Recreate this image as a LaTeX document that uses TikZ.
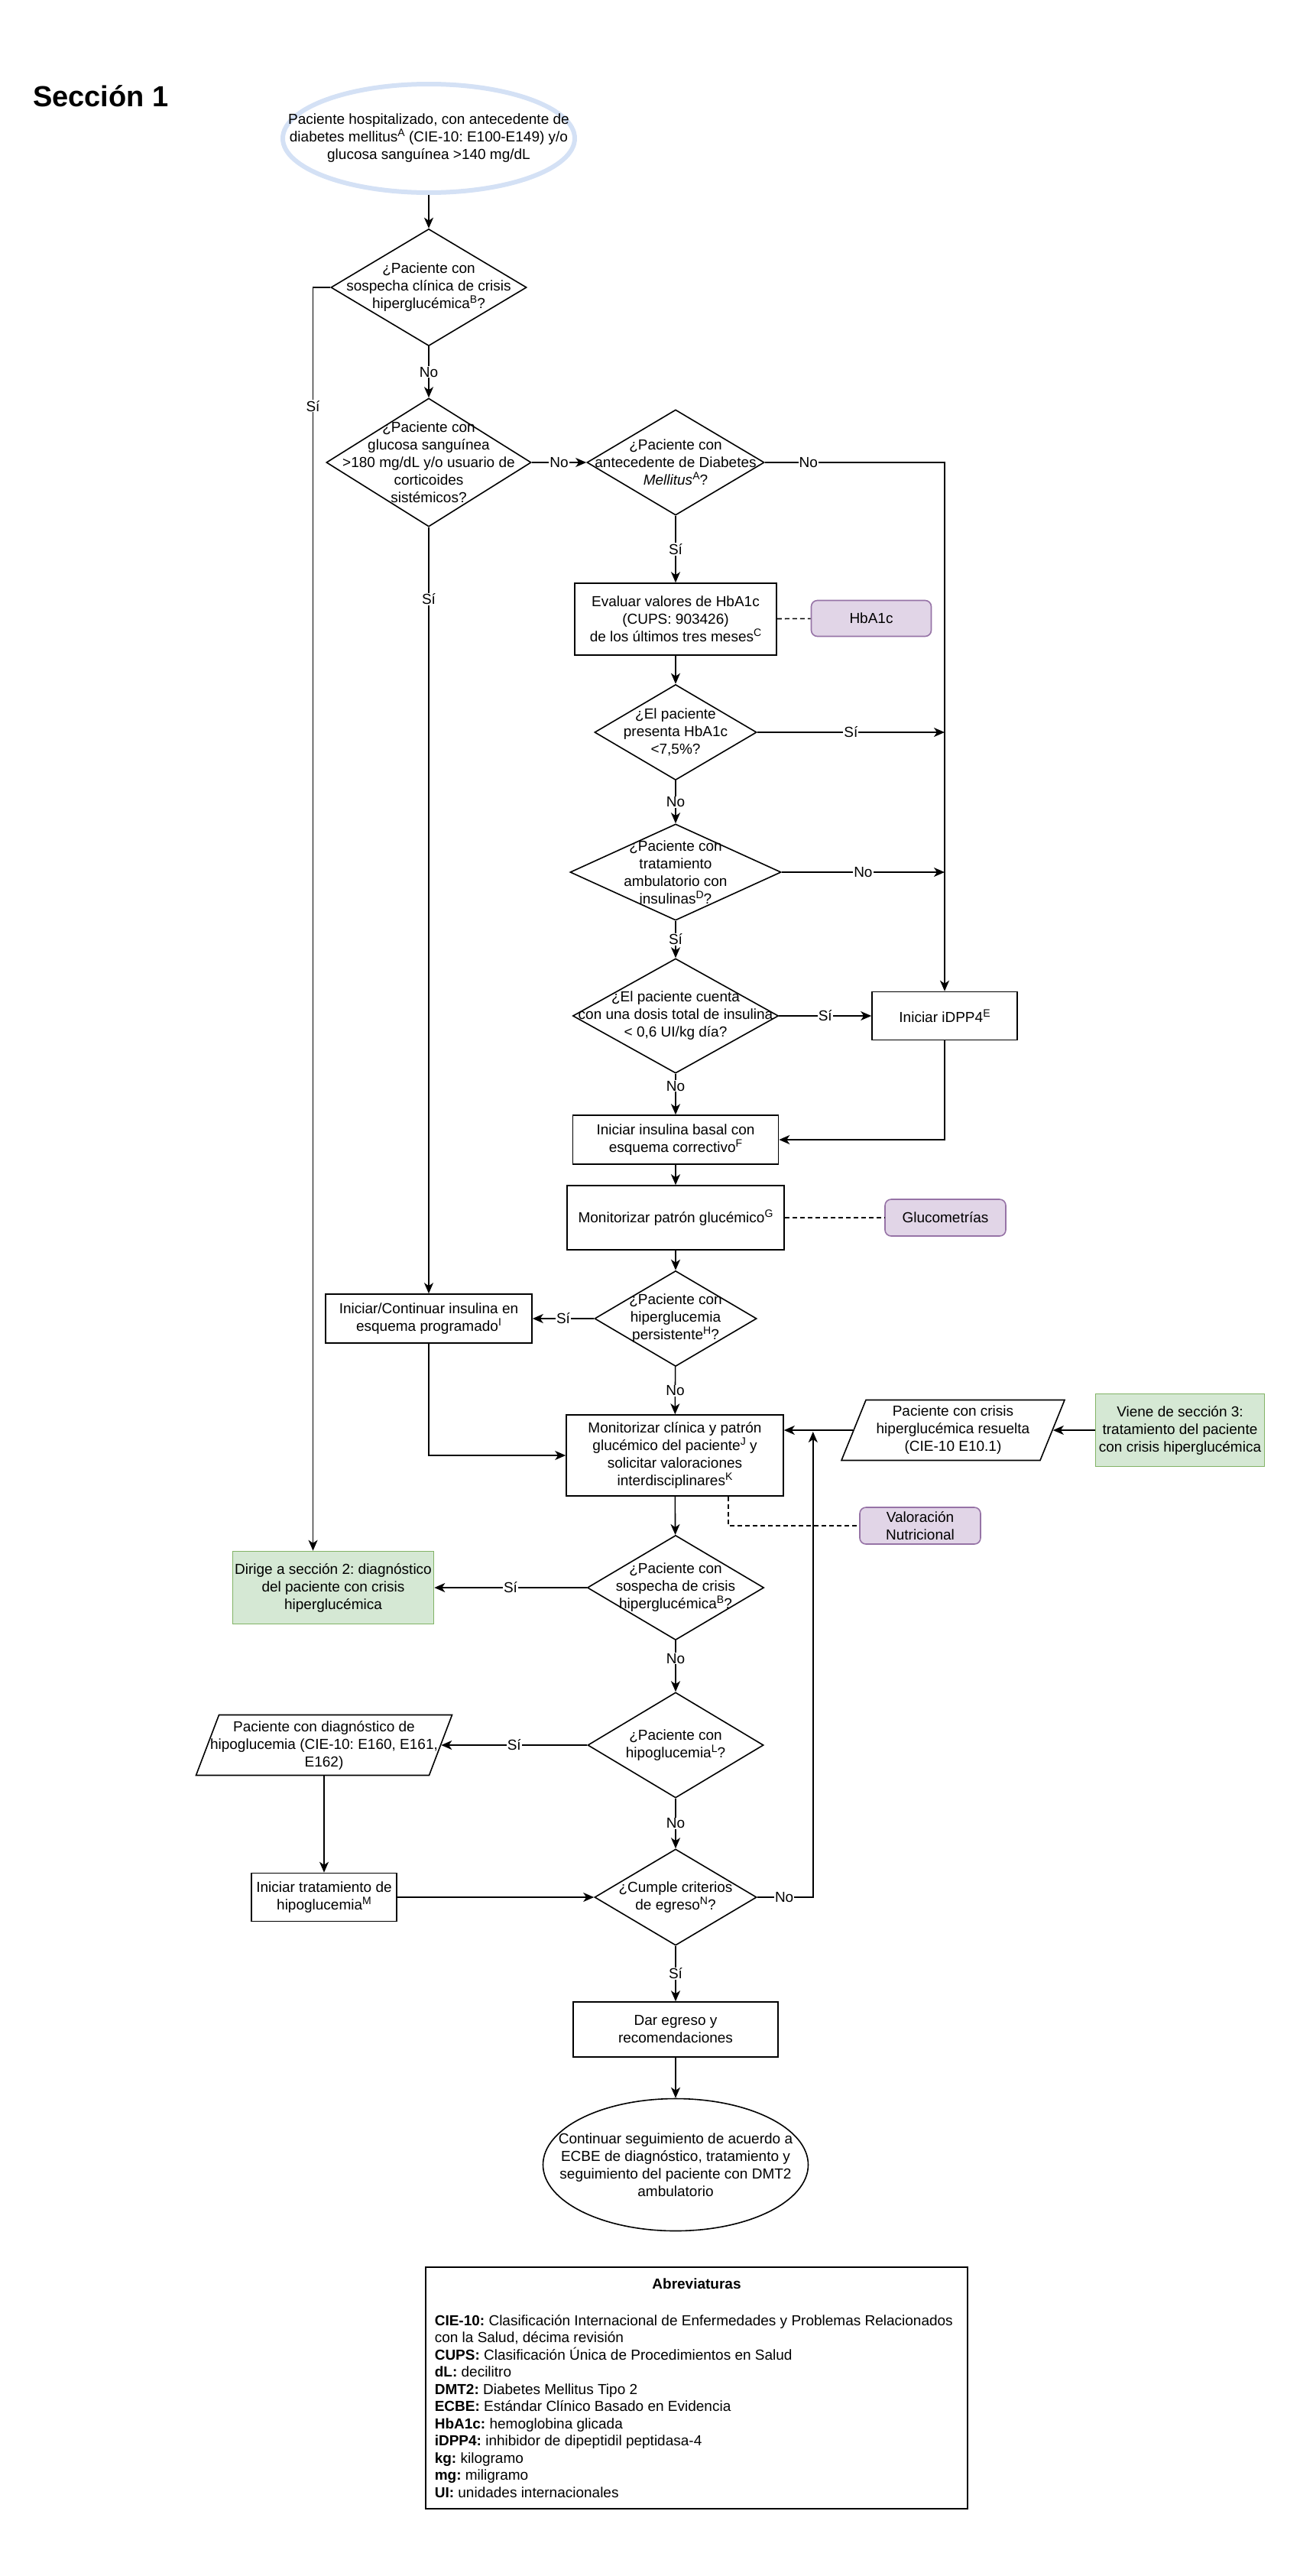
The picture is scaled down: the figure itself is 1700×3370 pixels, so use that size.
\documentclass[tikz,border=0pt]{standalone}
\usepackage{fontspec}
\setmainfont{Liberation Sans}
\usepackage{tikz}
\usetikzlibrary{shapes.geometric,arrows.meta,calc}

\definecolor{azulinicio}{HTML}{D4E1F5}
\definecolor{lilafondo}{HTML}{E1D5E7}
\definecolor{lilaborde}{HTML}{9673A6}
\definecolor{verdefondo}{HTML}{D5E8D4}
\definecolor{verdeborde}{HTML}{82B366}

% superindice de las notas
\newcommand{\nota}[1]{\raisebox{7pt}{\fontsize{14}{14}\selectfont #1}}
\frenchspacing

\begin{document}
\begin{tikzpicture}[x=1pt,y=-1pt,line width=1.6pt,
    every node/.style={font=\fontsize{19}{23}\selectfont,align=center},
    sz/.style 2 args={minimum width=#1,minimum height=#2},
    proc/.style={draw,inner sep=1pt},
    decision/.style={draw,diamond,inner sep=0pt},
    texto/.style={inner sep=0pt},
    lila/.style={draw=lilaborde,fill=lilafondo,rounded corners=8pt},
    verde/.style={draw=verdeborde,fill=verdefondo,inner sep=1pt},
    entrada/.style={draw,inner sep=0pt},
    flecha/.style={-{Stealth[length=14pt,width=12pt,inset=4pt]}},
    punteada/.style={dash pattern=on 6pt off 4pt},
    etiqueta/.style={fill=white,inner sep=1pt}]
        \useasboundingbox (0,0) rectangle (1700,3370);

        % Titulo
        \node[anchor=base west,font=\fontsize{38}{44}\selectfont\bfseries] (titulo) at (39,139) {Sección 1};

        % Inicio
        \node[draw=azulinicio,ellipse,line width=6pt,inner sep=0pt,sz={382}{142}] (inicio) at (561,181) {};
        \node[texto] (iniciot) at (inicio) {Paciente hospitalizado, con antecedente de\\diabetes mellitus\nota{A} (CIE-10: E100-E149) y/o\\glucosa sanguínea >140 mg/dL};

        % Decisiones
        \node[decision,sz={256}{153}] (d1) at (561,376) {};
        \node[texto] (d1t) at (d1) {¿Paciente con\\sospecha clínica de crisis\\hiperglucémica\nota{B}?};
        \node[decision,sz={268}{168}] (d2) at (561,605) {};
        \node[texto] (d2t) at (d2) {¿Paciente con\\glucosa sanguínea\\>180 mg/dL y/o usuario de\\corticoides\\sistémicos?};
        \node[decision,sz={232}{138}] (d3) at (884,605) {};
        \node[texto] (d3t) at (d3) {¿Paciente con\\antecedente de Diabetes\\\textit{Mellitus}\nota{A}?};
        \node[decision,sz={212}{125}] (d4) at (884,958) {};
        \node[texto] (d4t) at (d4) {¿El paciente\\presenta HbA1c\\<7,5\%?};
        \node[decision,sz={276}{126}] (d5) at (884,1141) {};
        \node[texto] (d5t) at (d5) {¿Paciente con\\tratamiento\\ambulatorio con\\insulinas\nota{D}?};
        \node[decision,sz={269}{150}] (d6) at (884,1329) {};
        \node[texto] (d6t) at (d6) {¿El paciente cuenta\\con una dosis total de insulina\\< 0,6 UI/kg día?};
        \node[decision,sz={212}{125}] (d7) at (884,1725) {};
        \node[texto] (d7t) at (d7) {¿Paciente con\\hiperglucemia\\persistente\nota{H}?};
        \node[decision,sz={231}{137}] (d8) at (884,2077) {};
        \node[texto] (d8t) at (d8) {¿Paciente con\\sospecha de crisis\\hiperglucémica\nota{B}?};
        \node[decision,sz={230}{138}] (d9) at (884,2283) {};
        \node[texto] (d9t) at (d9) {¿Paciente con\\hipoglucemia\nota{L}?};
        \node[decision,sz={212}{126}] (d10) at (884,2482) {};
        \node[texto] (d10t) at (d10) {¿Cumple criterios\\de egreso\nota{N}?};

        % Procesos
        \node[proc,sz={264}{94}] (b1) at (884,810) {Evaluar valores de HbA1c\\(CUPS: 903426)\\de los últimos tres meses\nota{C}};
        \node[proc,sz={190}{63}] (idpp4) at (1236,1329) {Iniciar iDPP4\nota{E}};
        \node[proc,sz={269}{64}] (b2) at (884,1491) {Iniciar insulina basal con\\esquema correctivo\nota{F}};
        \node[proc,sz={284}{84}] (b3) at (884,1593) {Monitorizar patrón glucémico\nota{G}};
        \node[proc,sz={270}{64}] (b4) at (561,1725) {Iniciar/Continuar insulina en\\esquema programado\nota{I}};
        \node[proc,sz={284}{106}] (b5) at (883,1904) {Monitorizar clínica y patrón\\glucémico del paciente\nota{J} y\\solicitar valoraciones\\interdisciplinares\nota{K}};
        \node[proc,sz={190}{63}] (b6) at (424,2482) {Iniciar tratamiento de\\hipoglucemia\nota{M}};
        \node[proc,sz={268}{72}] (b7) at (884,2655) {Dar egreso y\\recomendaciones};

        % Recursos y conectores de seccion
        \node[lila,sz={157}{47}] (hb) at (1140,809) {HbA1c};
        \node[lila,sz={158}{48}] (gl) at (1237,1593) {Glucometrías};
        \node[lila,sz={158}{48}] (vn) at (1204,1996) {Valoración\\Nutricional};
        \node[verde,sz={221}{95}] (g1) at (1544,1871) {Viene de sección 3:\\tratamiento del paciente\\con crisis hiperglucémica};
        \node[verde,sz={263}{95}] (g2) at (436,2077) {Dirige a sección 2: diagnóstico\\del paciente con crisis\\hiperglucémica};

        % Entradas
        \node[entrada,xslant=0.405,sz={260}{79}] (p1) at (1247,1871) {};
        \node[texto] (p1t) at (p1.center) {Paciente con crisis\\hiperglucémica resuelta\\(CIE-10 E10.1)};
        \node[entrada,xslant=0.38,sz={305}{79}] (p2) at (424,2283) {};
        \node[texto] (p2t) at (p2.center) {Paciente con diagnóstico de\\hipoglucemia (CIE-10: E160, E161,\\E162)};

        % Fin
        \node[draw,ellipse,inner sep=0pt,sz={347}{173}] (fin) at (884,2832) {};
        \node[texto] (fint) at (fin) {Continuar seguimiento de acuerdo a\\ECBE de diagnóstico, tratamiento y\\seguimiento del paciente con DMT2\\ambulatorio};

        % Puntos auxiliares
        \coordinate (g2in) at ($(g2.north west)!0.4!(g2.north east)$);
        \coordinate (b5nut) at ($(b5.south west)!0.745!(b5.south east)$);
        \coordinate (retorno) at ($(p1.west -| b5.east)+(38,2)$);

        % Conectores
        \draw[flecha] (inicio) -- (d1);
        \draw[flecha] (d1) -- node[etiqueta] (l1) {No} (d2);
        \draw[flecha] (d1.west) -| node[etiqueta,pos=0.547] (l2) {Sí} (g2in);
        \draw[flecha] (d2) -- node[etiqueta] (l3) {No} (d3);
        \draw[flecha] (d2) -- node[etiqueta,pos=0.094] (l4) {Sí} (b4);
        \draw[flecha] (d3) -- node[etiqueta] (l5) {Sí} (b1);
        \draw[flecha] (d3.east) -| node[etiqueta,pos=0.121] (l6) {No} (idpp4.north);
        \draw[punteada] (b1) -- (hb);
        \draw[flecha] (b1) -- (d4);
        \draw[flecha] (d4.east) -- node[etiqueta] (l7) {Sí} (d4.east -| idpp4);
        \draw[flecha] (d4) -- node[etiqueta] (l8) {No} (d5);
        \draw[flecha] (d5.east) -- node[etiqueta] (l9) {No} (d5.east -| idpp4);
        \draw[flecha] (d5) -- node[etiqueta] (l10) {Sí} (d6);
        \draw[flecha] (d6) -- node[etiqueta] (l11) {Sí} (idpp4);
        \draw[flecha] (d6) -- node[etiqueta,pos=0.3] (l12) {No} (b2);
        \draw[flecha] (idpp4.south) |- (b2.east);
        \draw[flecha] (b2) -- (b3);
        \draw[punteada] (b3) -- (gl);
        \draw[flecha] (b3) -- (d7);
        \draw[flecha] (d7) -- node[etiqueta] (l13) {Sí} (b4);
        \draw[flecha] (d7) -- node[etiqueta] (l14) {No} (b5);
        \draw[flecha] (b4.south) |- (b5.west);
        \draw[flecha] (g1.west) -- (p1.east);
        \draw[flecha] (p1.west) -- (p1.west -| b5.east);
        \draw[punteada] (b5nut) |- (vn.west);
        \draw[flecha] (b5) -- (d8);
        \draw[flecha] (d8) -- node[etiqueta] (l15) {Sí} (g2);
        \draw[flecha] (d8) -- node[etiqueta,pos=0.35] (l16) {No} (d9);
        \draw[flecha] (d9) -- node[etiqueta] (l17) {Sí} (p2.east);
        \draw[flecha] (d9) -- node[etiqueta] (l18) {No} (d10);
        \draw[flecha] (p2.center |- p2.south) -- (b6);
        \draw[flecha] (b6) -- (d10);
        \draw[flecha] (d10.east) -| node[etiqueta,pos=0.242] (l19) {No} (retorno);
        \draw[flecha] (d10) -- node[etiqueta] (l20) {Sí} (b7);
        \draw[flecha] (b7) -- (fin);

        % Abreviaturas
        \node[draw,sz={709}{316}] (abrev) at (911.5,3124) {};
        \node[font=\fontsize{19}{23}\selectfont\bfseries] (abrevt) at (911.5,2988) {Abreviaturas};
        \node[anchor=north west,align=left,inner sep=0pt,font=\fontsize{19}{22.5}\selectfont] (abrevl) at (568,3027.5) {\textbf{CIE-10:} Clasificación Internacional de Enfermedades y Problemas Relacionados\\con la Salud, décima revisión\\\textbf{CUPS:} Clasificación Única de Procedimientos en Salud\\\textbf{dL:} decilitro\\\textbf{DMT2:} Diabetes Mellitus Tipo 2\\\textbf{ECBE:} Estándar Clínico Basado en Evidencia\\\textbf{HbA1c:} hemoglobina glicada\\\textbf{iDPP4:} inhibidor de dipeptidil peptidasa-4\\\textbf{kg:} kilogramo\\\textbf{mg:} miligramo\\\textbf{UI:} unidades internacionales};

        \end{tikzpicture}
\end{document}
